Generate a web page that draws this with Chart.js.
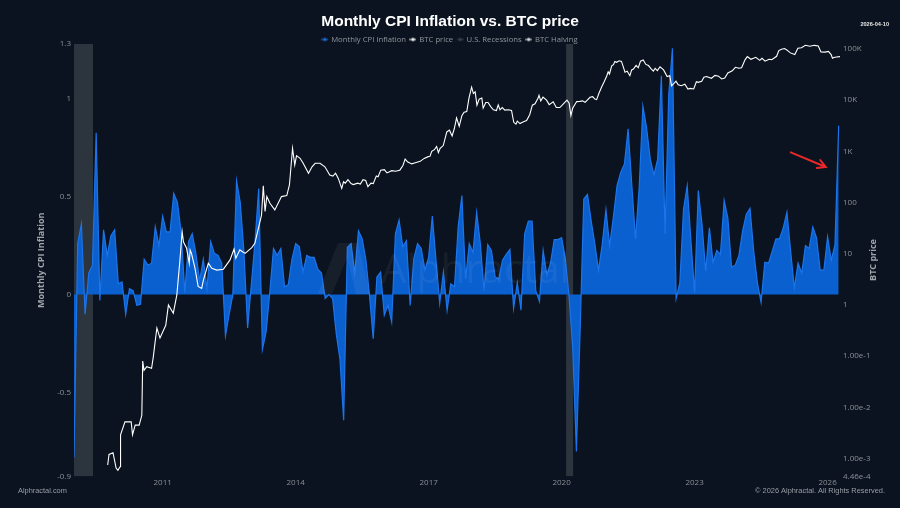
<!DOCTYPE html>
<html>
<head>
<meta charset="utf-8">
<script src="https://cdn.jsdelivr.net/npm/chart.js@4/dist/chart.umd.min.js"></script>
<style>html,body{margin:0;padding:0;background:#0a131f}canvas{display:block}</style>
</head>
<body>
<canvas id="c" width="900" height="508"></canvas>
<script>
// Monthly CPI series: first month and month-on-month values
const cpiStartYear = 2009;
const cpiValues = [
-0.83,0.26,0.36,-0.10,0.11,0.15,0.825,-0.03,0.33,0.20,0.30,0.33,
0.055,0.065,-0.10,0.03,0.02,-0.055,-0.05,0.18,0.15,0.16,0.345,0.25,
0.40,0.32,0.32,0.515,0.47,0.32,0.01,0.27,0.31,0.21,0.07,0.18,
0.03,0.27,0.21,0.20,0.16,-0.21,-0.10,0.00,0.58,0.47,0.22,-0.17,
0.05,0.27,0.54,-0.28,-0.19,0.01,0.235,0.20,0.235,0.04,0.05,0.18,
0.26,0.245,0.115,0.20,0.19,0.19,0.13,0.11,-0.02,0.00,-0.02,-0.20,
-0.33,-0.64,0.24,0.26,0.11,0.325,0.285,0.18,-0.005,-0.225,0.09,0.115,
-0.105,-0.055,-0.14,0.31,0.38,0.245,0.275,-0.055,0.185,0.26,0.235,0.125,
0.19,0.40,0.175,-0.045,0.115,-0.08,0.055,0.04,0.345,0.505,0.08,0.26,
0.215,0.42,0.26,0.02,0.255,0.225,0.09,0.08,0.175,0.205,0.23,-0.07,
0.06,-0.08,0.31,0.375,0.375,0.02,-0.035,0.225,0.10,0.16,0.28,0.28,
0.29,0.185,-0.005,-0.27,-0.80,-0.19,0.487,0.51,0.376,0.257,0.125,0.257,
0.432,0.25,0.393,0.555,0.623,0.665,0.845,0.56,0.283,0.545,0.96,0.85,
0.69,0.61,0.69,1.115,0.31,1.02,1.255,-0.02,0.06,0.435,0.555,0.275,
0.01,0.53,0.36,0.12,0.34,0.165,0.225,0.205,0.48,0.39,0.14,0.15,
0.20,0.325,0.41,0.44,0.22,0.06,-0.04,0.165,0.16,0.22,0.283,0.285,
0.34,0.42,0.22,0.035,0.16,0.11,0.25,0.235,0.345,0.29,0.125,0.125,
0.295,0.175,0.255,0.86
];
// BTC price as [decimal year, price]
const btcSeries = [
[2009.76,7.5e-4],[2009.79,1.2e-3],[2009.88,1.3e-3],[2009.95,6.5e-4],[2009.99,5.9e-4],[2010.04,6.9e-4],[2010.05,2.9e-3],[2010.15,5.2e-3],[2010.29,5.2e-3],[2010.32,2.9e-3],[2010.38,4.5e-3],[2010.47,4.5e-3],[2010.53,7e-3],[2010.55,0.08],[2010.58,0.053],[2010.64,0.0625],[2010.75,0.058],[2010.79,0.098],[2010.83,0.19],[2010.87,0.355],[2010.94,0.226],
[2011.07,0.4],[2011.13,1],[2011.24,0.69],[2011.32,1.57],[2011.39,7.6],[2011.44,27],[2011.47,17],[2011.54,12.8],[2011.60,6.5],[2011.62,11.9],[2011.65,10.2],[2011.73,5.2],[2011.80,2.3],[2011.88,2.1],[2011.92,3.1],
[2012.03,6.5],[2012.11,5.2],[2012.22,4.8],[2012.37,5.0],[2012.52,7.6],[2012.61,12.4],[2012.65,8.2],[2012.74,11.9],[2012.86,10.2],
[2013.01,13.2],[2013.08,16],[2013.23,57],[2013.27,214],[2013.31,67],[2013.35,131],[2013.42,97],[2013.53,72],[2013.68,131],[2013.80,137],[2013.86,221],[2013.93,1150],[2013.98,543],
[2014.02,826],[2014.10,733],[2014.17,585],[2014.29,373],[2014.37,500],[2014.44,585],[2014.55,585],[2014.66,500],[2014.77,346],[2014.84,330],[2014.90,375],[2014.96,300],
[2015.04,190],[2015.08,255],[2015.12,240],[2015.18,280],[2015.25,235],[2015.30,225],[2015.40,240],[2015.46,230],[2015.52,280],[2015.58,270],[2015.63,205],[2015.70,240],[2015.75,235],[2015.82,330],[2015.86,320],[2015.92,430],
[2016.00,440],[2016.06,380],[2016.17,420],[2016.25,410],[2016.35,430],[2016.42,530],[2016.47,710],[2016.53,620],[2016.62,570],[2016.70,600],[2016.81,640],[2016.90,730],[2016.99,790],
[2017.03,800],[2017.07,1000],[2017.13,1080],[2017.18,1250],[2017.22,950],[2017.26,1150],[2017.33,1300],[2017.41,2400],[2017.47,2600],[2017.53,2000],[2017.58,2800],[2017.63,4500],[2017.69,3100],[2017.75,5000],[2017.80,5800],[2017.86,6000],[2017.91,11000],[2017.97,18000],
[2018.01,13500],[2018.05,14500],[2018.09,8000],[2018.14,10500],[2018.20,11000],[2018.23,7000],[2018.29,9000],[2018.34,9000],[2018.40,7500],[2018.46,6500],[2018.53,6300],[2018.57,8100],[2018.61,6500],[2018.66,7200],[2018.72,6400],[2018.80,6500],[2018.87,6300],[2018.92,3700],[2018.97,3400],
[2019.00,3900],[2019.06,3500],[2019.14,3800],[2019.21,4000],[2019.28,5200],[2019.34,8000],[2019.40,8500],[2019.47,11000],[2019.49,12500],[2019.53,9700],[2019.58,11500],[2019.66,10000],[2019.72,8200],[2019.81,9300],[2019.88,7200],[2019.96,7200],
[2020.04,8500],[2020.12,10000],[2020.17,8700],[2020.21,5000],[2020.25,7000],[2020.34,9400],[2020.41,9500],[2020.47,9700],[2020.53,9100],[2020.64,11400],[2020.70,11700],[2020.75,10500],[2020.79,10250],[2020.84,13500],[2020.90,17900],[2020.96,23000],
[2021.02,30100],[2021.05,36000],[2021.08,32500],[2021.13,47000],[2021.17,49400],[2021.20,57000],[2021.24,54900],[2021.30,59000],[2021.35,57400],[2021.38,48000],[2021.43,35100],[2021.48,37000],[2021.54,30100],[2021.58,39000],[2021.62,40700],[2021.68,48000],[2021.73,43000],[2021.78,58000],[2021.84,61000],[2021.90,50000],[2021.96,47500],
[2022.02,41000],[2022.07,37000],[2022.11,42000],[2022.16,38000],[2022.22,45000],[2022.30,39000],[2022.38,29000],[2022.44,30000],[2022.48,19000],[2022.53,21000],[2022.58,23500],[2022.63,20000],[2022.70,19200],[2022.78,20500],[2022.85,16500],[2022.90,17000],[2022.98,16600],
[2023.04,23000],[2023.08,22300],[2023.16,23500],[2023.21,28000],[2023.27,29000],[2023.38,26800],[2023.46,30500],[2023.54,29500],[2023.61,26000],[2023.68,27000],[2023.75,34000],[2023.85,37500],[2023.92,44000],
[2024.00,42000],[2024.06,43000],[2024.14,62000],[2024.19,71000],[2024.27,63000],[2024.38,69000],[2024.47,60000],[2024.52,66000],[2024.59,58000],[2024.68,63000],[2024.74,62000],[2024.85,72000],[2024.90,93000],[2024.96,99000],
[2025.03,102000],[2025.08,96000],[2025.16,84000],[2025.26,78000],[2025.33,104000],[2025.41,106000],[2025.50,118000],[2025.60,113000],[2025.70,118000],[2025.79,115000],[2025.85,88000],[2025.94,87000],
[2026.02,90000],[2026.08,78000],[2026.11,66000],[2026.14,68000],[2026.20,70000],[2026.28,71000]
];
const recessionStarts = [2009.0, 2020.10];
const recessionEnds = [2009.43, 2020.265];
const yearTicks = [2011,2014,2017,2020,2023,2026];
const cpiTicks = [-0.927,-0.5,0,0.5,1,1.277];
const cpiTickLabels = ['-0.9','-0.5','0','0.5','1','1.3'];
const btcTicks = [4.46e-4,1e-3,1e-2,1e-1,1,10,100,1000,10000,100000];
const btcTickLabels = ['4.46e-4','1.00e-3','1.00e-2','1.00e-1','1','10','100','1K','10K','100K'];
const legendNames = ['Monthly CPI Inflation','BTC price','U.S. Recessions','BTC Halving'];
const arrowYears = [2025.17, 2025.96];
const arrowValues = [0.725, 0.65];

const BG = '#0a131f', TICK = '#8b9097', LEG = '#8f959d';
const SANS = '"Open Sans", sans-serif', ARIAL = '"Liberation Sans", Arial, sans-serif';

function marker(color) {
  const c = document.createElement('canvas');
  c.width = 7; c.height = 6;
  const g = c.getContext('2d');
  g.strokeStyle = color; g.lineWidth = 1;
  g.beginPath(); g.moveTo(0,3); g.lineTo(7,3); g.stroke();
  g.fillStyle = color; g.beginPath(); g.arc(3.5,3,1.7,0,Math.PI*2); g.fill();
  return c;
}
const markers = [marker('#1c6fe0'), marker('#f2f2f2'), marker('#3a414b'), marker('#d8d8d8')];

const cpiPoints = cpiValues.map((v,i)=>({x:cpiStartYear+i/12,y:v}));
const btcPoints = btcSeries.map(p=>({x:p[0],y:p[1]}));
const recPoints = [];
recessionStarts.forEach((s,i)=>{
  recPoints.push({x:s,y:cpiTicks[5]},{x:recessionEnds[i],y:cpiTicks[5]},{x:recessionEnds[i],y:null});
});

const decor = {
  id:'decor',
  afterDatasetsDraw(ch){
    const g = ch.ctx, xs = ch.scales.x, ys = ch.scales.y;
    g.save();
    g.fillStyle='rgba(255,255,255,0.055)';
    g.font='40px '+SANS; g.textAlign='left'; g.textBaseline='middle';
    g.fillText('Alphractal',381,272);
    g.beginPath();
    g.moveTo(318,294);g.lineTo(338,243);g.lineTo(358,243);g.lineTo(370,294);g.lineTo(356,294);g.lineTo(347,258);g.lineTo(332,294);g.closePath();
    g.fill();
    const x0=xs.getPixelForValue(arrowYears[0]),x1=xs.getPixelForValue(arrowYears[1]);
    const y0=ys.getPixelForValue(arrowValues[0]),y1=ys.getPixelForValue(arrowValues[1]);
    const a=Math.atan2(y1-y0,x1-x0),h=9;
    g.strokeStyle='#e8292c';g.lineWidth=2;g.lineCap='round';
    g.beginPath();g.moveTo(x0,y0);g.lineTo(x1,y1);
    g.moveTo(x1-h*Math.cos(a-0.5),y1-h*Math.sin(a-0.5));g.lineTo(x1,y1);g.lineTo(x1-h*Math.cos(a+0.5),y1-h*Math.sin(a+0.5));
    g.stroke();
    g.restore();
  },
  afterDraw(ch){
    const g=ch.ctx;
    g.save();
    g.textBaseline='middle';
    g.fillStyle='#e6e6e6';g.font='bold 5.6px '+ARIAL;g.textAlign='right';
    g.fillText('2026-04-10',889,24);
    g.fillStyle='#9a9fa6';g.font='7.4px '+ARIAL;g.textAlign='left';
    g.fillText('Alphractal.com',18,491);
    g.textAlign='right';
    g.fillText('© 2026 Alphractal. All Rights Reserved.',885,491);
    g.translate(873,260);g.rotate(-Math.PI/2);
    g.textAlign='center';g.fillStyle='#a0a5ab';g.font='bold 9px '+SANS;
    g.fillText('BTC price',0,0);
    g.restore();
  }
};

const chart = new Chart(document.getElementById('c'),{
  type:'line',
  data:{datasets:[
    {label:legendNames[0],data:cpiPoints,yAxisID:'y',borderColor:'#1c74ea',borderWidth:1.2,backgroundColor:'#0b60cf',fill:{value:0},pointRadius:0,tension:0,order:2},
    {label:legendNames[1],data:btcPoints,yAxisID:'y2',borderColor:'#ffffff',borderWidth:1.1,fill:false,pointRadius:0,tension:0,order:1},
    {label:legendNames[2],data:recPoints,yAxisID:'y',borderWidth:0,borderColor:'transparent',backgroundColor:'rgba(255,255,255,0.14)',fill:'start',pointRadius:0,tension:0,spanGaps:false,order:3},
    {label:legendNames[3],data:[],yAxisID:'y',borderColor:'#d8d8d8',pointRadius:0,order:4}
  ]},
  options:{
    responsive:false,animation:false,devicePixelRatio:1,
    layout:{padding:{top:0,bottom:0,left:0,right:0}},
    plugins:{
      tooltip:{enabled:false},
      title:{display:true,text:'Monthly CPI Inflation vs. BTC price',color:'#ffffff',font:{family:ARIAL,size:15.5,weight:'bold'},padding:{top:12.5,bottom:0}},
      legend:{display:true,position:'top',onClick:null,labels:{
        color:LEG,font:{family:SANS,size:7.7},usePointStyle:true,padding:4.5,boxWidth:5,boxHeight:6,
        generateLabels(){return legendNames.map((t,i)=>({text:t,fontColor:LEG,pointStyle:markers[i],datasetIndex:i,hidden:false,lineWidth:0,strokeStyle:'transparent',fillStyle:'transparent'}));}
      }}
    },
    scales:{
      x:{type:'linear',min:2009,max:2026.28,grid:{display:false,drawTicks:false},border:{display:false},
        afterBuildTicks(a){a.ticks=yearTicks.map(v=>({value:v}));},
        ticks:{color:TICK,font:{family:SANS,size:8},padding:1,autoSkip:false,maxRotation:0,callback:v=>String(v)},
        afterFit(a){a.height=31.5;}},
      y:{type:'linear',position:'left',min:cpiTicks[0],max:cpiTicks[5],grid:{display:false,drawTicks:false},border:{display:false},
        afterBuildTicks(a){a.ticks=cpiTicks.map(v=>({value:v}));},
        ticks:{color:TICK,font:{family:SANS,size:8},padding:3,autoSkip:false,callback:v=>cpiTickLabels[cpiTicks.indexOf(v)]},
        title:{display:true,text:'Monthly CPI Inflation',color:'#a0a5ab',font:{family:SANS,size:9,weight:'bold'},padding:{top:36,bottom:0}},
        afterFit(a){a.width=74;}},
      y2:{type:'logarithmic',position:'right',min:4.46e-4,max:125300,grid:{display:false,drawTicks:false},border:{display:false},
        afterBuildTicks(a){a.ticks=btcTicks.map(v=>({value:v}));},
        ticks:{color:TICK,font:{family:SANS,size:8},padding:3,autoSkip:false,callback:v=>btcTickLabels[btcTicks.indexOf(v)]},
        afterFit(a){a.width=60;}}
    }
  },
  plugins:[{id:'bg',beforeDraw(ch){const g=ch.ctx;g.save();g.fillStyle=BG;g.fillRect(0,0,ch.width,ch.height);g.restore();}},decor]
});
// The legend sits in a fixed strip between the title and the plot
const fitLegend = chart.legend.fit;
chart.legend.fit = function(){ fitLegend.call(this); this.height = 44 - 31.1; };
chart.update();
</script>
</body>
</html>
